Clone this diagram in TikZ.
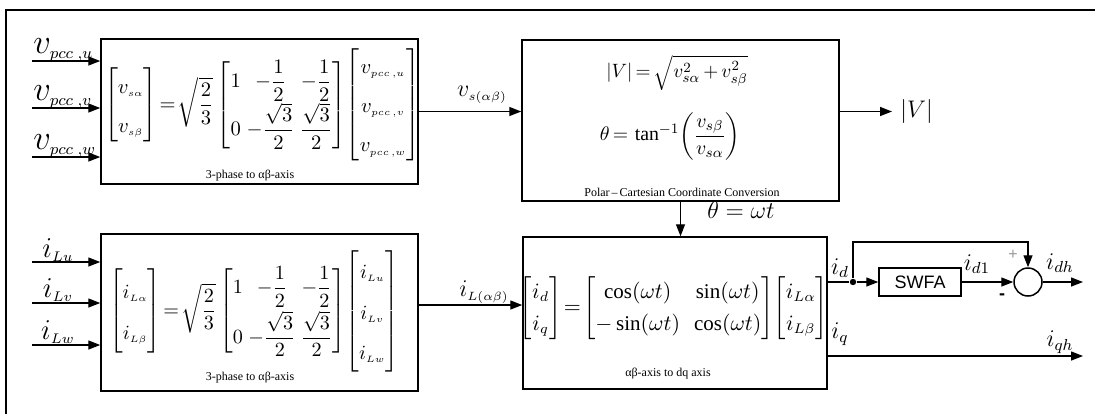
\documentclass[tikz,border=0pt]{standalone}
\usepackage{amsmath,amssymb}
\usepackage{graphicx}
\usepackage{fontspec}
\setmainfont{Liberation Serif}
\newfontfamily\arialfont{Liberation Sans}
\usetikzlibrary{arrows.meta,calc}
\newcommand{\ssub}[1]{{\scriptscriptstyle #1}}

\begin{document}
\begin{tikzpicture}[x=0.5pt,y=-0.5pt,>={Triangle[length=6pt,width=4.5pt]},
  blk/.style={draw,line width=0.75pt,inner sep=0pt},
  wire/.style={line width=0.7pt},
  capt/.style={inner sep=0pt,font=\fontsize{6}{7}\selectfont},
  eqn/.style={inner sep=0pt,font=\fontsize{11}{13}\selectfont\setlength{\arraycolsep}{1.5pt}},
  sig/.style={inner sep=0pt,font=\fontsize{13}{13}\selectfont},
  lbl/.style={inner sep=0pt,font=\fontsize{12}{12}\selectfont}]
  \useasboundingbox (0,0) rectangle (1095,414);

  % ---- outer frame (only top and left edge are in view) -----------------
  \draw[line width=1pt] (6,414) -- (6,10) -- (1095,10);

  % ---- blocks -------------------------------------------------------------
  \node[blk,minimum width=158.5pt,minimum height=72.5pt] (vab) at (259.5,111.5) {};
  \node[blk,minimum width=158.5pt,minimum height=78.5pt] (iab) at (259.5,312.5) {};
  \node[blk,minimum width=158.5pt,minimum height=80.5pt] (pol) at (680.5,120.5) {};
  \node[blk,minimum width=152pt,minimum height=76pt]     (dq)  at (675,313) {};
  \node[blk,minimum width=41pt,minimum height=14pt,font=\arialfont\fontsize{9}{10}\selectfont]
        (swfa) at (920,282) {SWFA};
  \node[blk,circle,minimum size=14pt] (sum) at (1028,282) {};
  \node[circle,fill,inner sep=0pt,minimum size=3.2pt] (jd) at (853,282) {};

  % ---- block contents -----------------------------------------------------
  \node[eqn] (vabeq) at (262,105) {\renewcommand{\arraystretch}{1.6}%
     \scalebox{0.94}{$\begin{bmatrix} v_\ssub{s\alpha}\\ v_\ssub{s\beta}\end{bmatrix}
     \!=\!\sqrt{\dfrac{2}{3}}\begin{bmatrix} 1 & -\dfrac{1}{2} & -\dfrac{1}{2}\\[2pt]
     0 & -\dfrac{\sqrt{3}}{2} & \dfrac{\sqrt{3}}{2}\end{bmatrix}\!
     \begin{bmatrix} v_\ssub{pcc\,,u}\\ v_\ssub{pcc\,,v}\\ v_\ssub{pcc\,,w}\end{bmatrix}$}};
  \node[capt] (vabcap) at (250,176) {3-phase to αβ-axis};

  \node[eqn] (iabeq) at (254,311) {\renewcommand{\arraystretch}{1.7}%
     \scalebox{0.92}{$\begin{bmatrix} i_\ssub{L\alpha}\\ i_\ssub{L\beta}\end{bmatrix}
     \!=\!\sqrt{\dfrac{2}{3}}\begin{bmatrix} 1 & -\dfrac{1}{2} & -\dfrac{1}{2}\\[3pt]
     0 & -\dfrac{\sqrt{3}}{2} & \dfrac{\sqrt{3}}{2}\end{bmatrix}\!
     \begin{bmatrix} i_\ssub{Lu}\\ i_\ssub{Lv}\\ i_\ssub{Lw}\end{bmatrix}$}};
  \node[capt] (iabcap) at (250,378) {3-phase to αβ-axis};

  \node[eqn] (magV) at (677,73)
        {\scalebox{0.88}{$\lvert V\rvert{\,=\,}\sqrt{v_{s\alpha}^2{\,+\,}v_{s\beta}^2}$}};
  \node[eqn] (angV) at (670,136)
        {\scalebox{0.9}{$\theta{\,=\,}\tan^{-1}\!\left(\dfrac{v_{s\beta}}{v_{s\alpha}}\right)$}};
  \node[capt] (polcap) at (682,192) {Polar\,–\,Cartesian Coordinate Conversion};

  \node[eqn,font=\fontsize{10.5}{12}\selectfont\setlength{\arraycolsep}{3.5pt}] (dqeq) at (674,308)
        {\renewcommand{\arraystretch}{1.35}%
         $\begin{bmatrix} i_d\\ i_q\end{bmatrix}\!=\!
         \begin{bmatrix}\cos(\omega t) & \sin(\omega t)\\ -\sin(\omega t) & \cos(\omega t)\end{bmatrix}\!
         \begin{bmatrix} i_{L\alpha}\\ i_{L\beta}\end{bmatrix}$};
  \node[capt] (dqcap) at (668,374) {αβ-axis to dq axis};

  % ---- inputs -------------------------------------------------------------
  \coordinate (vu) at (32,61);  \coordinate (vv) at (32,108); \coordinate (vw) at (32,157);
  \coordinate (iu) at (32,262); \coordinate (iv) at (32,303); \coordinate (iw) at (32,345);
  \foreach \p in {vu,vv,vw} \draw[wire,->] (\p) -- (\p -| vab.west);
  \foreach \p in {iu,iv,iw} \draw[wire,->] (\p) -- (\p -| iab.west);
  \node[sig,font=\fontsize{17}{17}\selectfont,anchor=south west] (vulbl) at (33,62) {$v_\ssub{pcc\;,u}$};
  \node[sig,font=\fontsize{17}{17}\selectfont,anchor=south west] (vvlbl) at (33,109) {$v_\ssub{pcc\;,v}$};
  \node[sig,font=\fontsize{17}{17}\selectfont,anchor=south west] (vwlbl) at (33,158) {$v_\ssub{pcc\;,w}$};
  \node[sig,font=\fontsize{14}{14}\selectfont] (iulbl) at (58,250) {$i_\ssub{Lu}$};
  \node[sig,font=\fontsize{14}{14}\selectfont] (ivlbl) at (58,290) {$i_\ssub{Lv}$};
  \node[sig,font=\fontsize{14}{14}\selectfont] (iwlbl) at (58,332) {$i_\ssub{Lw}$};

  % ---- links between blocks -----------------------------------------------
  \draw[wire,->] (vab.east) -- (vab.east -| pol.west);
  \node[sig] (vslbl) at (482,95) {$v_\ssub{s(\alpha\beta)}$};
  \draw[wire,->] ($(iab.east)+(0,-7.5)$) coordinate (iLo) -- (iLo -| dq.west);
  \node[sig] (iLlbl) at (484,292) {$i_\ssub{L(\alpha\beta)}$};

  \node[sig,font=\fontsize{12}{12}\selectfont,anchor=west] (Vmag) at (900,111.5) {$\lvert V\rvert$};
  \draw[wire,->] (pol.east |- Vmag.west) -- ([xshift=-4pt]Vmag.west);

  \draw[wire,->] (pol.south) -- (pol.south |- dq.north);
  \node[lbl] (thlbl) at (741,210) {$\theta=\omega t$};

  % ---- d-axis: SWFA and subtraction ---------------------------------------
  \draw[wire] (dq.east |- jd) -- (jd);
  \draw[wire,->] (jd) -- (swfa.west);
  \draw[wire,->] (jd) -- ++(0,-40) -| (sum.north);
  \draw[wire,->] (swfa.east) -- (sum.west);
  \coordinate (idh) at (1083,282);
  \draw[wire,->] (sum.east) -- (idh);
  \node[inner sep=0pt,font=\arialfont\fontsize{8}{8}\selectfont,black!40] (plus) at (1013,255) {+};
  \node[inner sep=0pt,font=\arialfont\bfseries\fontsize{9}{9}\selectfont] (minus) at (1002,297) {-};
  \node[lbl] (idlbl)  at (840,268)  {$i_d$};
  \node[lbl] (id1lbl) at (977,264)  {$i_{d1}$};
  \node[lbl] (idhlbl) at (1060,263) {$i_{dh}$};

  % ---- q-axis -------------------------------------------------------------
  \coordinate (iqh) at (1083,356);
  \draw[wire,->] (dq.east |- iqh) -- (iqh);
  \node[lbl] (iqlbl)  at (840,334)  {$i_q$};
  \node[lbl] (iqhlbl) at (1060,342) {$i_{qh}$};
\end{tikzpicture}
\end{document}
